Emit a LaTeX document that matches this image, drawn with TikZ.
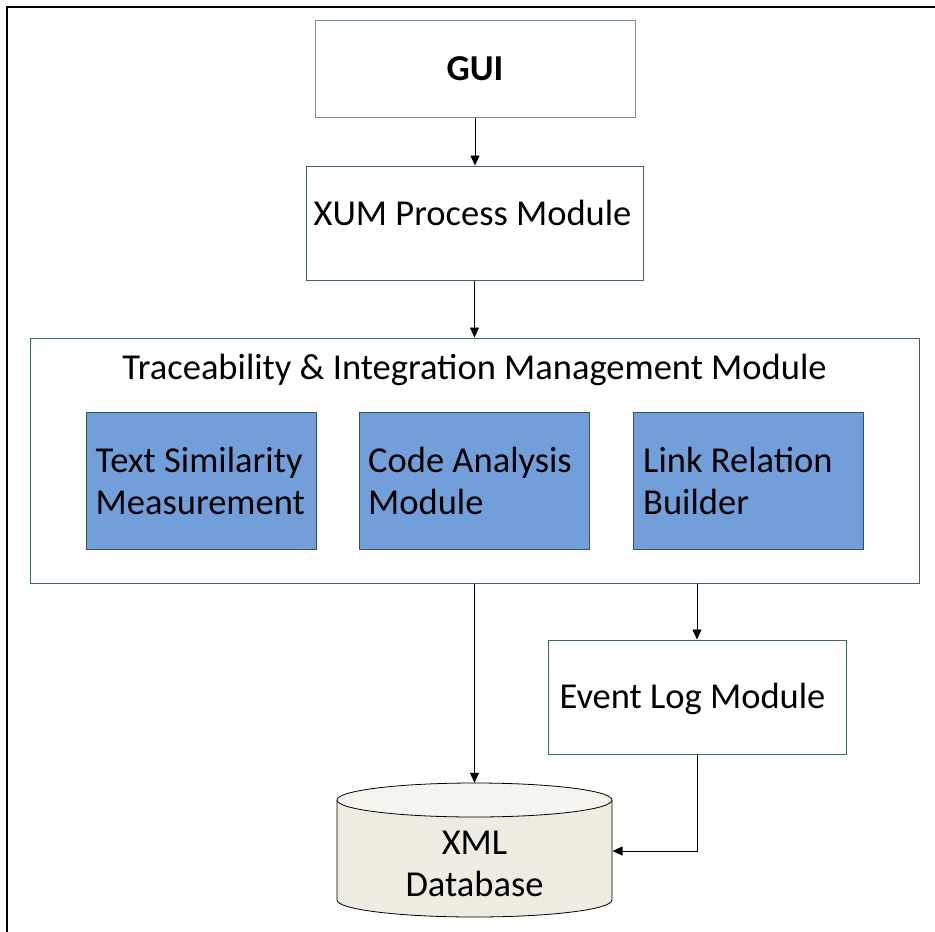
\documentclass[tikz,border=0pt]{standalone}
\usepackage{fontspec}
\setmainfont{Carlito}
\usetikzlibrary{arrows.meta}
\definecolor{boxgreen}{HTML}{3E6B4E}
\definecolor{guigreen}{HTML}{6F9683}
\definecolor{subblue}{HTML}{729FDA}
\definecolor{subedge}{HTML}{2E5858}
\definecolor{dbbody}{HTML}{EEECE1}
\definecolor{dbtop}{HTML}{F5F4EE}
\tikzset{
  every node/.style={font=\fontsize{36.5}{42}\selectfont, text=black},
  modbox/.style={draw=boxgreen, line width=1pt, fill=white, inner sep=0pt},
  subbox/.style={draw=subedge, line width=1pt, fill=subblue, inner sep=0pt,
    minimum width=230pt, minimum height=137pt},
  sublabel/.style={anchor=west, align=left, inner sep=0pt},
  flow/.style={draw=black, line width=0.8pt, -{Triangle[length=10pt,width=9pt]}},
}
\begin{document}
\begin{tikzpicture}[x=1pt, y=-1pt]
  \useasboundingbox (0,0) rectangle (935,932);
  \clip (0,0) rectangle (935,932);
  \fill[white] (0,0) rectangle (935,932);
  % page frame
  \draw[line width=2.6pt, black] (7,7) rectangle (960,960);

  % top modules
  \node[modbox, draw=guigreen, minimum width=320pt, minimum height=97pt,
        font=\fontsize{36.5}{42}\selectfont\bfseries] (gui) at (475,68.5) {GUI};
  \node[modbox, minimum width=337pt, minimum height=114pt] (xum) at (474.5,223) {};
  \node[anchor=base] (xumtext) at (472.5,225) {XUM Process Module};

  % traceability container with its three sub-modules
  \node[modbox, minimum width=889pt, minimum height=245pt] (tim) at (474.5,460.5) {};
  \node[anchor=base] (timtitle) at (474.5,379) {Traceability \& Integration Management Module};
  \node[subbox] (tsm) at (201,480.5) {};
  \node[subbox] (cam) at (474.5,480.5) {};
  \node[subbox] (lrb) at (748.5,480.5) {};
  \node[sublabel] (tsmtext) at ([xshift=10pt]tsm.west) {Text Similarity\\Measurement};
  \node[sublabel] (camtext) at ([xshift=9pt]cam.west) {Code Analysis\\Module};
  \node[sublabel] (lrbtext) at ([xshift=10pt]lrb.west) {Link Relation\\Builder};

  % event log
  \node[modbox, minimum width=298pt, minimum height=114pt] (ev) at (697,697) {};
  \node[anchor=base west] (evtext) at (556,708) {Event Log Module};

  % XML database cylinder
  \node[minimum width=275pt, minimum height=134pt, inner sep=0pt] (db) at (474.5,850) {};
  \fill[dbbody] (337,800) -- (337,900) arc[start angle=180, end angle=0, x radius=137.5, y radius=17]
        -- (612,800) -- cycle;
  \draw[line width=0.8pt] (337,800) -- (337,900) arc[start angle=180, end angle=0, x radius=137.5, y radius=17]
        -- (612,800);
  \draw[line width=0.8pt, fill=dbtop] (474.5,800) ellipse[x radius=137.5, y radius=17];
  \node[align=center] (dbtext) at (474.5,864) {XML\\Database};
  \coordinate (dbin) at (612.5,851);

  % connectors
  \draw[flow] (gui.south) -- (gui.south |- xum.north);
  \draw[flow] (xum.south) -- (tim.north);
  \draw[flow] (tim.south) -- (db.north);
  \draw[flow] (ev.north |- tim.south) -- (ev.north);
  \draw[flow] (ev.south) |- (dbin);
\end{tikzpicture}
\end{document}
